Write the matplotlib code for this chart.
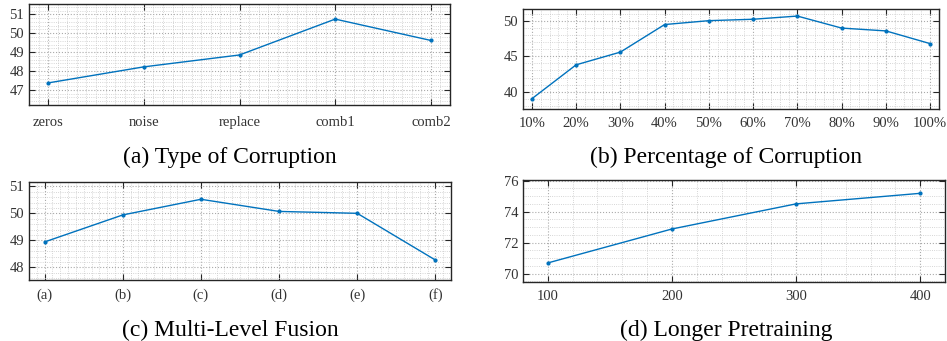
import numpy as np
import matplotlib.pyplot as plt
from matplotlib.ticker import MultipleLocator

plt.rcParams['font.family'] = ['Liberation Serif', 'DejaVu Serif']

# (a) type of corruption
corr_types = ['zeros', 'noise', 'replace', 'comb1', 'comb2']
corr_acc = [47.37, 48.22, 48.85, 50.75, 49.62]

# (b) percentage of corruption
pct_labels = ['10%', '20%', '30%', '40%', '50%', '60%', '70%', '80%', '90%', '100%']
pct_acc = [39.0, 43.8, 45.6, 49.5, 50.05, 50.25, 50.7, 49.0, 48.6, 46.8]

# (c) multi-level fusion
fusion_labels = ['(a)', '(b)', '(c)', '(d)', '(e)', '(f)']
fusion_acc = [48.94, 49.94, 50.52, 50.07, 50.0, 48.27]

# (d) longer pretraining
epochs = [100, 200, 300, 400]
epoch_acc = [70.69, 72.88, 74.5, 75.18]

W, H = 947, 341
fig = plt.figure(figsize=(W / 100, H / 100), dpi=100)
blue = (0, 0.447, 0.741)
frame = '#262626'


def make_ax(x0, y0, x1, y1):
    # pixel box -> figure fraction
    return fig.add_axes([x0 / W, 1 - y1 / H, (x1 - x0) / W, (y1 - y0) / H])


def style(ax, xminor, yminor):
    for s in ax.spines.values():
        s.set_color(frame)
        s.set_linewidth(1.0)
    ax.tick_params(which='both', direction='in', top=True, right=True,
                   labelsize=10.5, colors=frame, labelcolor='#333333')
    ax.tick_params(which='major', length=4)
    ax.tick_params(which='minor', length=0)
    ax.xaxis.set_minor_locator(MultipleLocator(xminor))
    ax.yaxis.set_minor_locator(MultipleLocator(yminor))
    ax.grid(which='major', linestyle=':', color='#aaaaaa', linewidth=0.8)
    ax.grid(which='minor', linestyle=':', color='#c8c8c8', linewidth=0.6)
    ax.set_axisbelow(True)


def draw(ax, x, y):
    ax.plot(x, y, color=blue, linewidth=1.0, marker='.', markersize=4)


# (a)
ax = make_ax(29, 4, 450, 105)
xa = np.arange(1, len(corr_types) + 1)
draw(ax, xa, corr_acc)
ax.set_xlim(0.8, 5.2)
ax.set_ylim(46.2, 51.55)
ax.set_xticks(xa)
ax.set_xticklabels(corr_types)
ax.set_yticks([47, 48, 49, 50, 51])
style(ax, 0.1, 0.2)
ax.tick_params(axis='x', pad=8)

# (b)
ax = make_ax(523, 9, 939, 109)
xb = np.arange(1, len(pct_labels) + 1)
draw(ax, xb, pct_acc)
ax.set_xlim(0.8, 10.2)
ax.set_ylim(37.55, 51.7)
ax.set_xticks(xb)
ax.set_xticklabels(pct_labels)
ax.set_yticks([40, 45, 50])
style(ax, 0.2, 1)
ax.tick_params(axis='x', pad=6)

# (c)
ax = make_ax(29, 182, 451, 280)
xc = np.arange(1, len(fusion_labels) + 1)
draw(ax, xc, fusion_acc)
ax.set_xlim(0.8, 6.2)
ax.set_ylim(47.53, 51.16)
ax.set_xticks(xc)
ax.set_xticklabels(fusion_labels)
ax.set_yticks([48, 49, 50, 51])
style(ax, 0.1, 0.2)
ax.tick_params(axis='x', pad=6)

# (d)
ax = make_ax(523, 180, 945, 282)
draw(ax, epochs, epoch_acc)
ax.set_xlim(80, 420)
ax.set_ylim(69.46, 76.04)
ax.set_xticks(epochs)
ax.set_yticks([70, 72, 74, 76])
style(ax, 20, 0.5)
ax.tick_params(axis='x', pad=6)

# sub-captions
fig.text(230 / W, 1 - 157 / H, '(a) Type of Corruption', ha='center', va='center', fontsize=17)
fig.text(726 / W, 1 - 157 / H, '(b) Percentage of Corruption', ha='center', va='center', fontsize=17)
fig.text(230 / W, 1 - 330 / H, '(c) Multi-Level Fusion', ha='center', va='center', fontsize=17)
fig.text(726 / W, 1 - 330 / H, '(d) Longer Pretraining', ha='center', va='center', fontsize=17)

fig.savefig('out.png', dpi=100)
